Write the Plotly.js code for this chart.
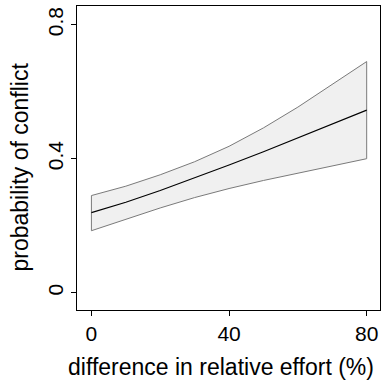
<!DOCTYPE html>
<html>
<head>
<meta charset="utf-8">
<script src="https://cdn.plot.ly/plotly-3.0.1.min.js"></script>
<style>html,body{margin:0;padding:0;background:#fff;}#chart{width:381px;height:383px;}</style>
</head>
<body>
<div id="chart"></div>
<script>
const effort = [0, 10, 20, 30, 40, 50, 60, 70, 80];
const meanProb = [0.239, 0.270, 0.305, 0.342, 0.381, 0.421, 0.462, 0.503, 0.545];
const upperCI = [0.290, 0.318, 0.352, 0.391, 0.437, 0.492, 0.554, 0.621, 0.690];
const lowerCI = [0.185, 0.220, 0.253, 0.284, 0.311, 0.335, 0.358, 0.379, 0.400];
const xTicks = [0, 40, 80];
const xTickText = ['0', '40', '80'];
const yTicks = [0, 0.4, 0.8];
const yTickText = ['0', '0.4', '0.8'];
const xTitle = 'difference in relative effort (%)';
const yTitle = 'probability of conflict';

const bandX = effort.concat(effort.slice().reverse(), [effort[0]]);
const bandY = upperCI.concat(lowerCI.slice().reverse(), [upperCI[0]]);

const font = 'Liberation Sans, Arial, sans-serif';
const data = [
  {x: bandX, y: bandY, type: 'scatter', mode: 'lines', fill: 'toself',
   fillcolor: '#f0f0f0', line: {color: '#7a7a7a', width: 1}, hoverinfo: 'skip', showlegend: false},
  {x: effort, y: meanProb, type: 'scatter', mode: 'lines',
   line: {color: '#000', width: 1.1}, showlegend: false}
];
const layout = {
  width: 381, height: 383,
  margin: {l: 77, r: 1, t: 6, b: 73},
  paper_bgcolor: '#fff', plot_bgcolor: '#fff',
  font: {family: font, color: '#000', size: 21},
  xaxis: {range: [-4.19, 83.87], tickvals: xTicks, ticktext: xTickText,
    ticks: 'outside', ticklen: 5, tickcolor: '#000', showline: true, mirror: true,
    linecolor: '#000', linewidth: 1, showgrid: false, zeroline: false,
    tickfont: {size: 21}},
  yaxis: {range: [-0.0516, 0.8558], tickvals: yTicks, ticktext: yTickText, tickangle: -90,
    ticks: 'outside', ticklen: 5, tickcolor: '#000', showline: true, mirror: true,
    linecolor: '#000', linewidth: 1, showgrid: false, zeroline: false,
    tickfont: {size: 21}},
  annotations: [
    {text: xTitle, xref: 'paper', yref: 'paper', x: 0.4736, y: -0.1875,
     xanchor: 'center', yanchor: 'middle', showarrow: false, font: {size: 23}},
    {text: yTitle, xref: 'paper', yref: 'paper', x: -0.188, y: 0.4688, textangle: -90,
     xanchor: 'center', yanchor: 'middle', showarrow: false, font: {size: 23}}
  ]
};
Plotly.newPlot('chart', data, layout, {staticPlot: true});
</script>
</body>
</html>
